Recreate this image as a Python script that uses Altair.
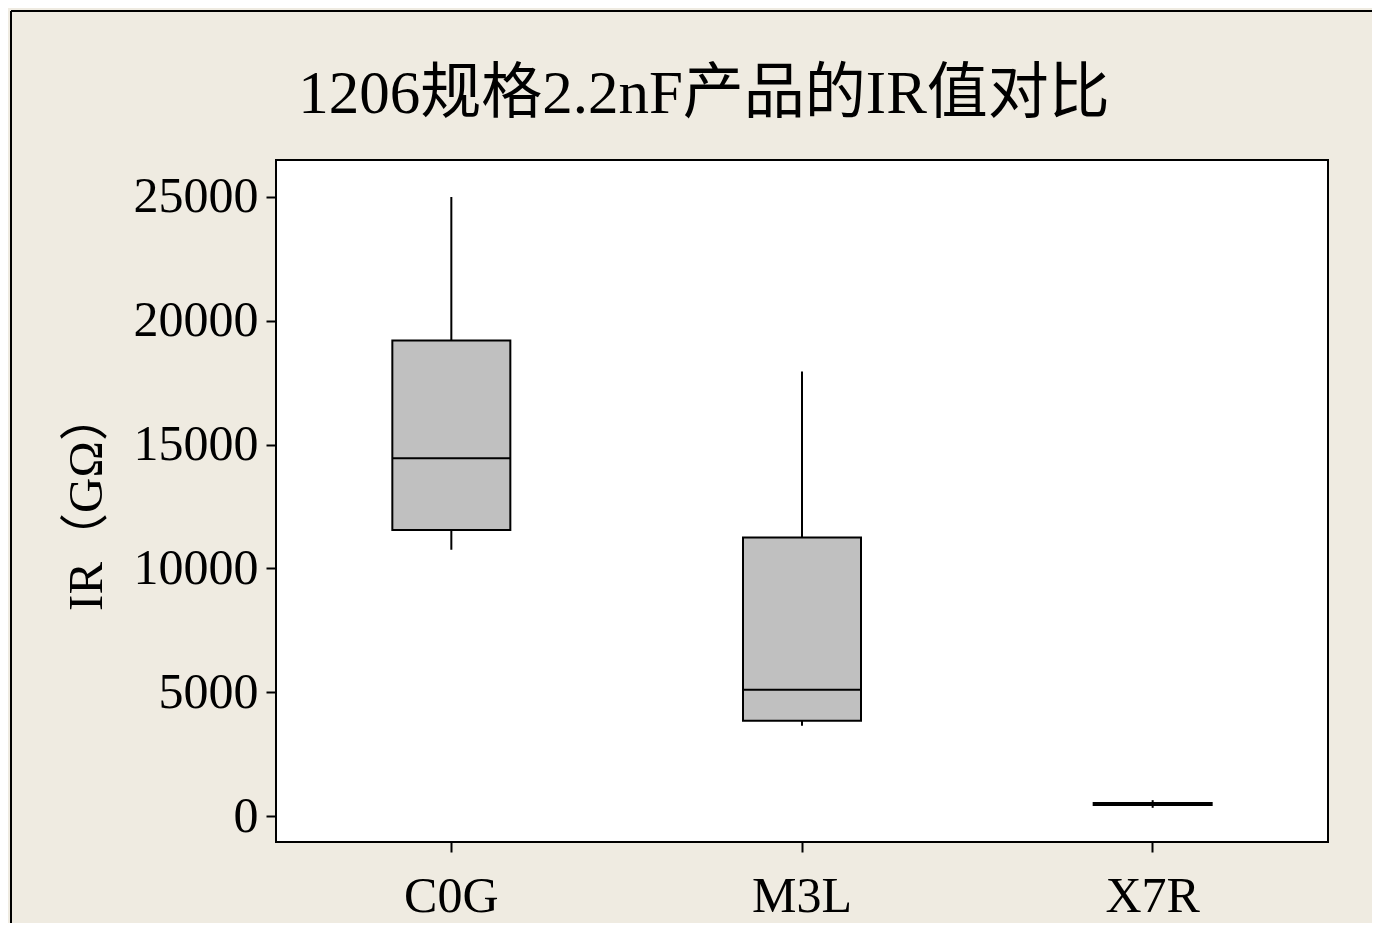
import altair as alt
import pandas as pd

categories = ["C0G", "M3L", "X7R"]
whisker_low = [10750, 3650, 330]
q1 = [11550, 3850, 440]
median = [14450, 5100, 485]
q3 = [19200, 11250, 525]
whisker_high = [25000, 17950, 640]

y_ticks = [0, 5000, 10000, 15000, 20000, 25000]
title_text = ["1206规格2.2nF产品的IR值对比"]
y_title = "IR（GΩ）"

df = pd.DataFrame({
    "cat": categories,
    "lo": whisker_low,
    "q1": q1,
    "med": median,
    "q3": q3,
    "hi": whisker_high,
})

W, H = 1052, 682
FONT = "Liberation Serif, Noto Sans CJK SC, serif"

xscale = alt.Scale(domain=categories, paddingInner=0, paddingOuter=0)
yscale = alt.Scale(domain=[-1050, 26494], nice=False, zero=False)

xenc = alt.X("cat:N", scale=xscale, sort=categories,
             axis=alt.Axis(title=None, labelAngle=0, labelFontSize=50, labelFont=FONT,
                           labelColor="black", tickSize=10, tickWidth=2, tickColor="black",
                           labelPadding=19, domain=False, grid=False, zindex=1))

base = alt.Chart(df)

whisker = base.mark_rule(color="black", strokeWidth=2).encode(
    x=xenc,
    y=alt.Y("lo:Q", scale=yscale,
            axis=alt.Axis(title=y_title, values=y_ticks, format="d", labelFontSize=50,
                          labelFont=FONT, labelColor="black", tickSize=10, tickWidth=2,
                          tickColor="black", labelPadding=8, domain=False, grid=False,
                          titleFont=FONT, titleFontSize=49, titleFontWeight="normal",
                          titleColor="black", titlePadding=22, zindex=1)),
    y2="hi:Q",
)

box = base.mark_bar(size=118, fill="#C0C0C0", stroke="black", strokeWidth=2).encode(
    x=alt.X("cat:N", scale=xscale, sort=categories),
    y=alt.Y("q1:Q", scale=yscale),
    y2="q3:Q",
)

med = base.mark_tick(size=118, thickness=2, color="black", opacity=1).encode(
    x=alt.X("cat:N", scale=xscale, sort=categories),
    y=alt.Y("med:Q", scale=yscale),
)

frame_df = pd.DataFrame({"k": [0]})
frame_left = alt.Chart(frame_df).mark_rule(color="black", strokeWidth=2).encode(
    x=alt.value(-265), y=alt.value(-149), y2=alt.value(H + 200))
frame_top = alt.Chart(frame_df).mark_rule(color="black", strokeWidth=2).encode(
    x=alt.value(-265), x2=alt.value(W + 200), y=alt.value(-149))

title_df = pd.DataFrame({"t": title_text})
title = alt.Chart(title_df).mark_text(
    font=FONT, fontSize=61, color="black", align="center", baseline="alphabetic"
).encode(x=alt.value(W / 2 - 98), y=alt.value(-47), text="t:N")

chart = alt.layer(frame_left, frame_top, whisker, box, med, title).properties(
    width=W, height=H,
    autosize=alt.AutoSizeParams(type="none"),
    padding={"left": 268, "top": 152, "right": 44, "bottom": 81},
).configure(background="#EFEBE1").configure_view(fill="white", stroke="black", strokeWidth=2)

chart.save("out.html", embed_options={"renderer": "svg", "actions": False})
